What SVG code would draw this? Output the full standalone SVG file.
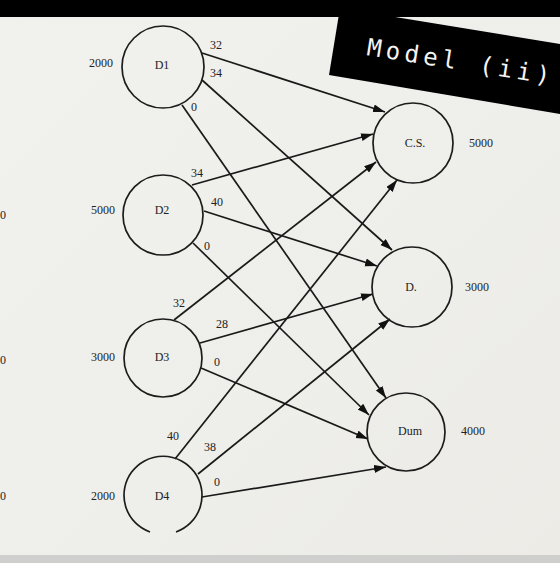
<svg xmlns="http://www.w3.org/2000/svg" width="560" height="563" viewBox="0 0 560 563">
<style>
.node circle, .node path{fill:none;stroke:#1c1c1c;stroke-width:1.7}
.lbl{font-family:"Liberation Serif","Times New Roman",serif;font-size:12px;fill:#222;text-anchor:middle}
.edge{stroke:#1a1a1a;stroke-width:1.7;fill:none;marker-end:url(#ah)}
.title{font-family:"DejaVu Sans Mono","Liberation Mono",monospace;font-size:24px;fill:#f4f4f4;letter-spacing:4.5px}
</style>
<defs>
<marker id="ah" markerUnits="userSpaceOnUse" markerWidth="13" markerHeight="9" refX="12" refY="4" orient="auto">
<path d="M0,0 L12,4 L0,8 Z" fill="#111"/>
</marker>
<linearGradient id="bg" x1="0" y1="0" x2="1" y2="1">
<stop offset="0" stop-color="#f1f1ee"/>
<stop offset="0.6" stop-color="#eeeeea"/>
<stop offset="1" stop-color="#ecebe6"/>
</linearGradient>
</defs>
<rect x="0" y="0" width="560" height="563" fill="url(#bg)"/>
<rect x="0" y="555" width="560" height="8" fill="#cfd0cd"/>
<rect x="0" y="0" width="560" height="17" fill="#000"/>
<polygon points="340,8 560,44 560,114 329,75" fill="#000"/>
<text class="title" x="366" y="55" transform="rotate(9 366 55)">Model (ii)</text>

<g id="connectors">
<line class="edge" x1="202" y1="53" x2="385" y2="112"/>
<line class="edge" x1="202" y1="80" x2="392" y2="250"/>
<line class="edge" x1="182" y1="105" x2="386" y2="398"/>
<line class="edge" x1="192" y1="185" x2="373" y2="134"/>
<line class="edge" x1="204" y1="211" x2="377" y2="266"/>
<line class="edge" x1="193" y1="243" x2="369" y2="415"/>
<line class="edge" x1="174" y1="320" x2="376" y2="162"/>
<line class="edge" x1="200" y1="343" x2="373" y2="294"/>
<line class="edge" x1="201" y1="368" x2="368" y2="439"/>
<line class="edge" x1="175" y1="459" x2="397" y2="180"/>
<line class="edge" x1="198" y1="474" x2="390" y2="319"/>
<line class="edge" x1="202" y1="497" x2="386" y2="467"/>
<text class="lbl" x="216" y="49">32</text>
<text class="lbl" x="216" y="77">34</text>
<text class="lbl" x="194" y="111">0</text>
<text class="lbl" x="197" y="177">34</text>
<text class="lbl" x="217" y="206">40</text>
<text class="lbl" x="207" y="250">0</text>
<text class="lbl" x="179" y="307">32</text>
<text class="lbl" x="222" y="328">28</text>
<text class="lbl" x="217" y="366">0</text>
<text class="lbl" x="173" y="440">40</text>
<text class="lbl" x="210" y="451">38</text>
<text class="lbl" x="217" y="486">0</text>
</g>

<g id="D1" class="node">
<circle cx="163" cy="67" r="41"/>
<text class="lbl" x="162" y="69">D1</text>
<text class="lbl" x="101" y="67">2000</text>
</g>
<g id="D2" class="node">
<circle cx="163" cy="215" r="40"/>
<text class="lbl" x="162" y="214">D2</text>
<text class="lbl" x="103" y="214">5000</text>
<text class="lbl" x="3" y="219">0</text>
</g>
<g id="D3" class="node">
<circle cx="163" cy="358" r="39"/>
<text class="lbl" x="162" y="361">D3</text>
<text class="lbl" x="103" y="361">3000</text>
<text class="lbl" x="3" y="364">0</text>
</g>
<g id="D4" class="node">
<path d="M150,532 A39,39 0 1 1 176,532"/>
<text class="lbl" x="162" y="500">D4</text>
<text class="lbl" x="103" y="500">2000</text>
<text class="lbl" x="3" y="500">0</text>
</g>
<g id="CS" class="node">
<circle cx="413" cy="143" r="40"/>
<text class="lbl" x="415" y="147">C.S.</text>
<text class="lbl" x="481" y="147">5000</text>
</g>
<g id="D" class="node">
<circle cx="412" cy="287" r="40"/>
<text class="lbl" x="411" y="291">D.</text>
<text class="lbl" x="477" y="291">3000</text>
</g>
<g id="Dum" class="node">
<circle cx="406" cy="432" r="39"/>
<text class="lbl" x="410" y="435">Dum</text>
<text class="lbl" x="473" y="435">4000</text>
</g>
</svg>
